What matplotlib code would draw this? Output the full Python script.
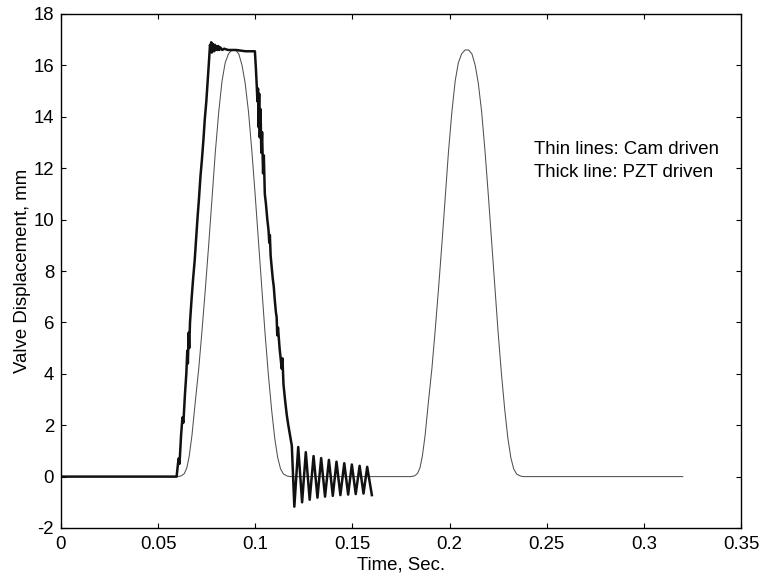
import matplotlib.pyplot as plt

# Кулачковый привод (тонкая линия): время, с и подъём клапана, мм
cam_t = [0.0, 0.0600, 0.0620, 0.0635, 0.0648, 0.0660, 0.0674, 0.0691, 0.0709,
         0.0726, 0.0743, 0.0760, 0.0777, 0.0794, 0.0812, 0.0829, 0.0845, 0.0862,
         0.0880, 0.0898, 0.0915, 0.0932, 0.0948, 0.0965, 0.0982, 0.0999, 0.1016,
         0.1033, 0.1050, 0.1067, 0.1084, 0.1100, 0.1115, 0.1130, 0.1145, 0.1165,
         0.1180,
         0.1800, 0.1820, 0.1835, 0.1848, 0.1860, 0.1874, 0.1891, 0.1909,
         0.1926, 0.1943, 0.1960, 0.1977, 0.1994, 0.2012, 0.2029, 0.2045, 0.2062,
         0.2080, 0.2098, 0.2115, 0.2132, 0.2148, 0.2165, 0.2182, 0.2199, 0.2216,
         0.2233, 0.2250, 0.2267, 0.2284, 0.2300, 0.2315, 0.2330, 0.2345, 0.2365,
         0.2380, 0.3200]
cam_y = [0.0, 0.0, 0.03, 0.12, 0.35, 0.8, 1.6, 2.9, 4.2,
         5.7, 7.3, 9.0, 10.8, 12.6, 14.2, 15.4, 16.1, 16.45,
         16.6, 16.6, 16.45, 16.0, 15.3, 14.2, 12.7, 11.0, 9.2,
         7.4, 5.6, 4.0, 2.6, 1.5, 0.75, 0.3, 0.1, 0.02,
         0.0,
         0.0, 0.03, 0.12, 0.35, 0.8, 1.6, 2.9, 4.2,
         5.7, 7.3, 9.0, 10.8, 12.6, 14.2, 15.4, 16.1, 16.45,
         16.6, 16.6, 16.45, 16.0, 15.3, 14.2, 12.7, 11.0, 9.2,
         7.4, 5.6, 4.0, 2.6, 1.5, 0.75, 0.3, 0.1, 0.02,
         0.0, 0.0]

# Пьезопривод (толстая линия)
pzt_t = [0.0, 0.0595, 0.0605, 0.0610, 0.0618, 0.0625, 0.0630, 0.0638, 0.0645,
         0.0650, 0.0653, 0.0657, 0.0660, 0.0664, 0.0672, 0.0680, 0.0688, 0.0695,
         0.0703, 0.0710, 0.0718, 0.0725, 0.0733, 0.0740, 0.0748, 0.0755, 0.0762,
         0.0767, 0.0770, 0.0773, 0.0776, 0.0779, 0.0782, 0.0785, 0.0788, 0.0792,
         0.0796, 0.0800, 0.0805, 0.0810, 0.0815, 0.0820, 0.0830, 0.0840, 0.0860,
         0.0900, 0.0950, 0.0998,
         0.1003, 0.1007, 0.1011, 0.1014, 0.1017, 0.1020, 0.1023, 0.1027, 0.1031,
         0.1035, 0.1040, 0.1044, 0.1049, 0.1055, 0.1062, 0.1068, 0.1072, 0.1075,
         0.1079, 0.1085, 0.1090, 0.1095, 0.1100, 0.1106, 0.1110, 0.1113, 0.1117,
         0.1125, 0.1136, 0.1140, 0.1145, 0.1153, 0.1162, 0.1170, 0.1179, 0.1188,
         0.1201, 0.1221, 0.1241, 0.1260, 0.1280, 0.1300, 0.1320, 0.1339, 0.1359,
         0.1379, 0.1399, 0.1418, 0.1438, 0.1458, 0.1478, 0.1497, 0.1517, 0.1537,
         0.1557, 0.1576, 0.1600]
pzt_y = [0.0, 0.0, 0.7, 0.5, 1.6, 2.3, 2.1, 3.2, 4.0,
         4.9, 4.4, 5.6, 5.0, 6.0, 6.9, 7.7, 8.4, 9.2,
         10.1, 10.8, 11.7, 12.3, 13.1, 13.9, 14.6, 15.4, 16.2,
         16.8, 16.6, 16.9, 16.5, 16.85, 16.6, 16.8, 16.55, 16.8,
         16.6, 16.75, 16.6, 16.75, 16.6, 16.7, 16.6, 16.65, 16.6,
         16.6, 16.55, 16.55,
         15.9, 15.3, 14.6, 15.1, 13.6, 14.9, 13.2, 14.3, 12.6,
         13.4, 11.8, 12.5, 11.0, 10.6, 10.0, 9.6, 9.1, 9.4,
         8.6, 8.1, 7.7, 7.4, 6.9, 6.4, 6.2, 5.5, 5.8,
         5.0, 4.2, 4.6, 3.6, 3.0, 2.4, 2.0, 1.6, 1.2,
         -1.17, 1.15, -1.0, 0.95, -0.9, 0.8, -0.82, 0.72, -0.78,
         0.65, -0.75, 0.58, -0.72, 0.52, -0.7, 0.47, -0.68, 0.42,
         -0.66, 0.38, -0.72]

x_ticks = [0, 0.05, 0.1, 0.15, 0.2, 0.25, 0.3, 0.35]
x_tick_labels = ['0', '0.05', '0.1', '0.15', '0.2', '0.25', '0.3', '0.35']
y_ticks = [-2, 0, 2, 4, 6, 8, 10, 12, 14, 16, 18]
y_tick_labels = ['-2', '0', '2', '4', '6', '8', '10', '12', '14', '16', '18']

plt.rcParams['font.family'] = ['Liberation Sans', 'DejaVu Sans']
plt.rcParams['font.size'] = 13.4

fig = plt.figure(figsize=(7.63, 5.81), dpi=100)
ax = fig.add_axes([61 / 763, 53 / 581, 680 / 763, 514 / 581])

ax.plot(cam_t, cam_y, color='#505050', lw=0.75)
ax.plot(pzt_t, pzt_y, color='#111111', lw=1.8)

ax.set_xlim(0, 0.35)
ax.set_ylim(-2, 18)
ax.set_xticks(x_ticks)
ax.set_xticklabels(x_tick_labels)
ax.set_yticks(y_ticks)
ax.set_yticklabels(y_tick_labels)
ax.tick_params(direction='in', top=True, right=True, length=3.6, width=0.8)
ax.tick_params(axis='x', pad=6)
ax.tick_params(axis='y', pad=5)
for s in ax.spines.values():
    s.set_linewidth(1.0)

ax.set_xlabel('Time, Sec.', labelpad=2)
ax.set_ylabel('Valve Displacement, mm', labelpad=2)

ax.text(0.2435, 12.55, 'Thin lines: Cam driven', va='baseline', ha='left')
ax.text(0.2435, 11.67, 'Thick line: PZT driven', va='baseline', ha='left')

fig.savefig('out.png', dpi=100)
